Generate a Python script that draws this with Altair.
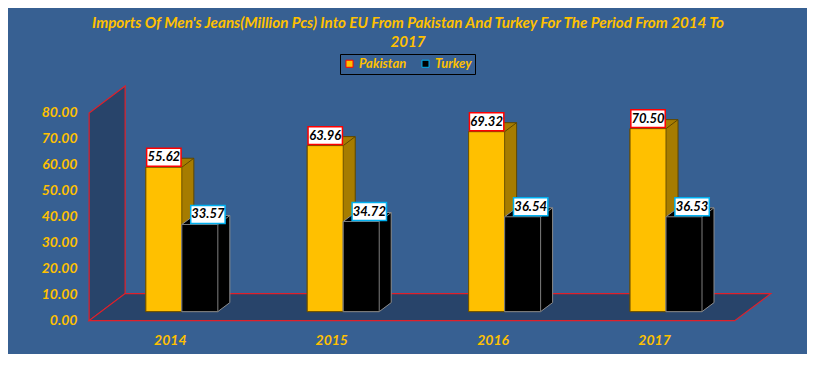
import altair as alt
import pandas as pd

# ---------------- data ----------------
YEARS = ["2014", "2015", "2016", "2017"]
SERIES = ["Pakistan", "Turkey"]
PAKISTAN = [55.62, 63.96, 69.32, 70.50]
TURKEY = [33.57, 34.72, 36.54, 36.53]
Y_TICKS = [0, 10, 20, 30, 40, 50, 60, 70, 80]
TITLE = ["Imports Of Men's Jeans(Million Pcs) Into EU From Pakistan And Turkey For The Period From 2014 To",
         "2017"]

# ---------------- style / geometry ----------------
BG = "#376092"
GOLD = "#FFC000"
WALL = "#28446A"
RED = "#E0202A"
FONT = "Lato"

BW = 0.223            # bar width in category units
FULL_DX = 0.223       # full 3D depth (x, category units)
FULL_DY = 10.4        # full 3D depth (y, value units)
DX = FULL_DX / 3      # bar depth
DY = FULL_DY / 3
BASE = DY             # bar front bottom
BOXW = 0.213
BOXH = 6.9
n = len(YEARS)
FLOOR_L = -0.5 - DX
FLOOR_R = n - 0.5 - DX
YTOP = Y_TICKS[-1]

xscale = alt.Scale(domain=[-0.6, 3.7], nice=False, zero=False)
yscale = alt.Scale(domain=[-4, 90], nice=False, zero=False)

label_expr = "'" + YEARS[-1] + "'"
for i in range(n - 2, -1, -1):
    label_expr = f"datum.value < {i + 0.5} ? '{YEARS[i]}' : " + label_expr

xaxis = alt.Axis(values=[round(i - DX, 4) for i in range(n)], labelExpr=label_expr,
                 title=None, domain=False, ticks=False, grid=False,
                 labelColor=GOLD, labelFont=FONT, labelFontSize=14,
                 labelFontStyle="italic", labelFontWeight="bold", labelPadding=2)
yaxis = alt.Axis(values=Y_TICKS, format=".2f", title=None, domain=False, ticks=False,
                 grid=False, labelColor=GOLD, labelFont=FONT, labelFontSize=14,
                 labelFontStyle="italic", labelFontWeight="bold", labelPadding=8)


def X(f):
    return alt.X(f, type="quantitative", scale=xscale, axis=xaxis)


def Y(f):
    return alt.Y(f, type="quantitative", scale=yscale, axis=yaxis)


# ---------------- tables built from data ----------------
wall_df = pd.DataFrame({"px": [FLOOR_L, FLOOR_L + FULL_DX],
                        "lo": [0, FULL_DY], "hi": [YTOP, YTOP + FULL_DY]})
floor_df = pd.DataFrame({"px": [FLOOR_L, FLOOR_L + FULL_DX, FLOOR_R, FLOOR_R + FULL_DX],
                         "lo": [0, 0, 0, FULL_DY],
                         "hi": [0, FULL_DY, FULL_DY, FULL_DY]})

front_rows, poly_rows, edge_rows, lab_rows = [], [], [], []
for s, vals, off, shift in [("Pakistan", PAKISTAN, -BW, 0.0), ("Turkey", TURKEY, 0.0, 0.05)]:
    for i, (yr, v) in enumerate(zip(YEARS, vals)):
        L = i + off
        R = L + BW
        top = BASE + v
        front_rows.append({"series": s, "year": yr, "L": L, "R": R, "b": BASE, "t": top})
        for (x, lo, hi) in [(L, BASE, top), (L + DX, BASE, top + DY),
                            (R, BASE, top + DY), (R + DX, BASE + DY, top + DY)]:
            poly_rows.append({"series": s, "year": yr, "px": x, "lo": lo, "hi": hi})
        edge_rows.append({"series": s, "year": yr, "ex": R, "ex2": R + DX, "ey": top, "ey2": top + DY})
        cx = L + BW / 2 + shift
        lab_rows.append({"series": s, "year": yr, "bx": cx - BOXW / 2, "bx2": cx + BOXW / 2, "cx": cx,
                         "b": top + 0.4, "t": top + 0.4 + BOXH, "m": top + 0.4 + BOXH / 2,
                         "txt": f"{v:.2f}"})

front_df = pd.DataFrame(front_rows)
poly_df = pd.DataFrame(poly_rows)
edge_df = pd.DataFrame(edge_rows)
lab_df = pd.DataFrame(lab_rows)

# ---------------- layers ----------------
wall = alt.Chart(wall_df).mark_area(orient="vertical", color=WALL, stroke=RED, strokeWidth=1.2).encode(
    x=X("px"), y=Y("lo"), y2="hi")
floor = alt.Chart(floor_df).mark_area(orient="vertical", color=WALL, stroke=RED, strokeWidth=1.2).encode(
    x=X("px"), y=Y("lo"), y2="hi")

color = alt.Color("series:N", scale=alt.Scale(domain=SERIES, range=[GOLD, "#000000"]),
                  legend=alt.Legend(orient="none", legendX=255, legendY=-33, direction="horizontal",
                                    title=None, fillColor=BG, strokeColor="#000000", padding=3,
                                    symbolType="square", symbolSize=50, symbolStrokeColor="#6f6f6f",
                                    symbolStrokeWidth=1, labelColor=GOLD, labelFont=FONT,
                                    labelFontSize=13, labelFontStyle="italic", labelFontWeight="bold",
                                    columnPadding=12, labelOffset=3))

layers = [wall, floor]
style = {"Pakistan": ("#A67C00", "#5E4700", "#6B5000"), "Turkey": ("#000000", "#8C8C8C", "#7F7F7F")}
for s in SERIES:
    side_c, edge_c, front_edge = style[s]
    layers.append(alt.Chart(poly_df[poly_df.series == s]).mark_area(
        orient="vertical", color=side_c, stroke=edge_c, strokeWidth=1).encode(
        x=X("px"), y=Y("lo"), y2="hi", detail="year:N"))
    layers.append(alt.Chart(edge_df[edge_df.series == s]).mark_rule(color=edge_c, strokeWidth=1).encode(
        x=X("ex"), x2="ex2", y=Y("ey"), y2="ey2"))
    layers.append(alt.Chart(front_df[front_df.series == s]).mark_rect(stroke=front_edge, strokeWidth=1).encode(
        x=X("L"), x2="R", y=Y("b"), y2="t", color=color))

boxes = alt.Chart(lab_df).mark_rect(fill="white", strokeWidth=1.5).encode(
    x=X("bx"), x2="bx2", y=Y("b"), y2="t",
    stroke=alt.Stroke("series:N", scale=alt.Scale(domain=SERIES, range=["#FF0000", "#00B0F0"]), legend=None))
texts = alt.Chart(lab_df).mark_text(font=FONT, fontSize=13, fontStyle="italic", fontWeight="bold",
                                    color="black", baseline="middle", align="center").encode(
    x=X("cx"), y=Y("m"), text="txt:N")
layers += [boxes, texts]

chart = alt.layer(*layers).properties(
    width=694, height=244, autosize="none",
    padding={"left": 77, "top": 79, "right": 28, "bottom": 23},
    background=BG,
    title=alt.TitleParams(text=TITLE, color=GOLD, font=FONT, fontSize=15.2, fontStyle="italic",
                          fontWeight="bold", anchor="middle", lineHeight=19, dx=-24, dy=1),
).configure_view(stroke=None)

chart.save("out.html", embed_options={"renderer": "svg", "actions": False})
